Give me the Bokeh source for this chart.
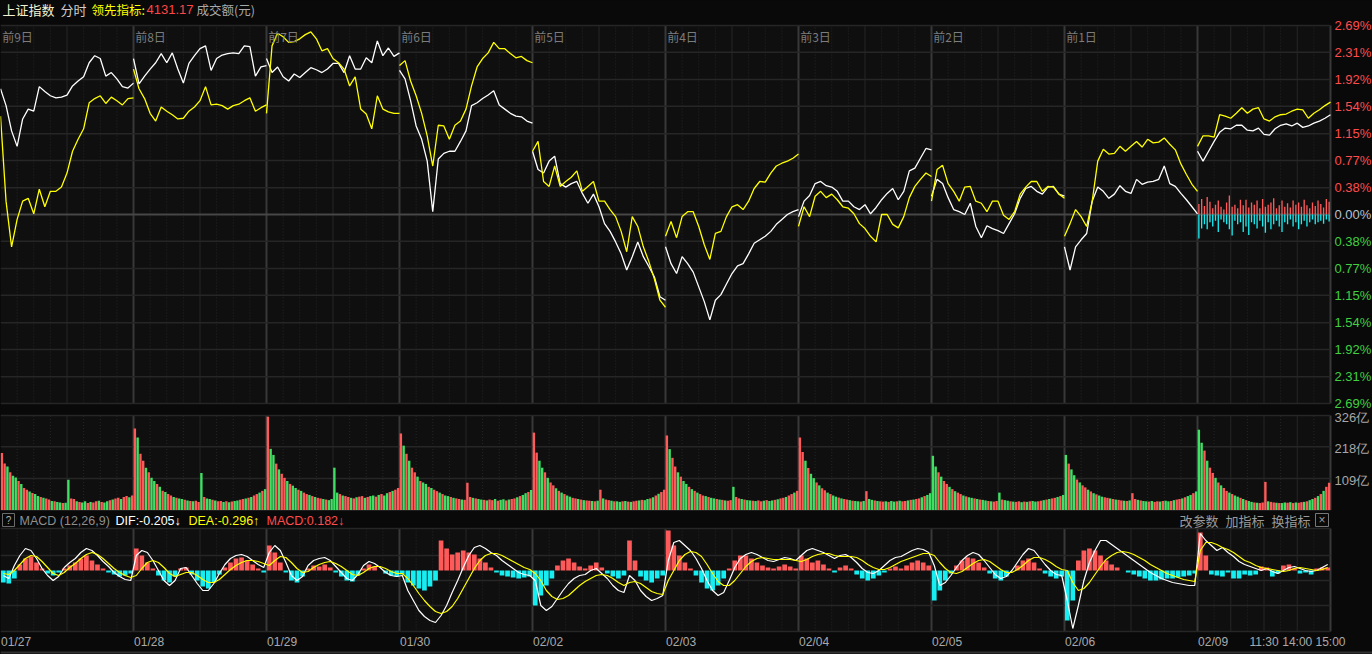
from bokeh.plotting import figure
from bokeh.models import Range1d, GlobalInlineStyleSheet
from bokeh.core.properties import value
from bokeh.embed import file_html
from bokeh.resources import INLINE

# ---------------- data ----------------
dates = ["01/27", "01/28", "01/29", "01/30", "02/02", "02/03", "02/04", "02/05", "02/06", "02/09"]
day_tags = ["前9日", "前8日", "前7日", "前6日", "前5日", "前4日", "前3日", "前2日", "前1日"]
time_tags = ["11:30", "14:00", "15:00"]
time_tag_min = [120, 180, 240]
pct_ticks = [2.69, 2.31, 1.92, 1.54, 1.15, 0.77, 0.38, 0.00, -0.38, -0.77, -1.15, -1.54, -1.92, -2.31, -2.69]
vol_ticks = [326, 218, 109]
macd_grid = [4.2, 1.5, -1.0, -3.5, -6.1]

# index (white) and leading indicator (yellow), % change, one value every 10 minutes
white_0127 = [1.79, 1.55, 1.19, 0.97, 1.36, 1.50, 1.47, 1.82, 1.75, 1.69, 1.66, 1.67, 1.70, 1.83, 1.90, 1.96, 2.16, 2.26, 2.22, 1.97, 2.02, 1.93, 1.82, 1.80, 1.87]
yellow_0127 = [1.40, 0.19, -0.46, -0.07, 0.19, 0.23, 0.01, 0.36, 0.11, 0.33, 0.33, 0.39, 0.59, 0.90, 1.07, 1.22, 1.59, 1.65, 1.69, 1.58, 1.67, 1.62, 1.56, 1.65, 1.66]
white_0128 = [2.22, 1.86, 1.97, 2.07, 2.16, 2.29, 2.16, 2.30, 2.07, 1.87, 2.15, 2.26, 2.36, 2.40, 2.05, 2.22, 2.27, 2.29, 2.30, 2.29, 2.40, 2.39, 1.97, 2.10, 2.12]
yellow_0128 = [2.07, 1.79, 1.65, 1.44, 1.33, 1.53, 1.47, 1.42, 1.36, 1.37, 1.47, 1.53, 1.62, 1.82, 1.56, 1.57, 1.55, 1.50, 1.55, 1.57, 1.62, 1.66, 1.47, 1.52, 1.56]
white_0129 = [2.22, 2.02, 2.10, 1.96, 1.90, 2.00, 1.95, 2.02, 2.09, 2.06, 2.02, 2.07, 2.15, 2.15, 2.02, 2.26, 2.07, 2.07, 2.23, 2.16, 2.47, 2.26, 2.37, 2.25, 2.30]
yellow_0129 = [1.44, 2.40, 2.58, 2.53, 2.45, 2.46, 2.50, 2.56, 2.60, 2.50, 2.33, 2.36, 2.22, 2.16, 2.07, 1.83, 1.96, 1.50, 1.43, 1.22, 1.69, 1.50, 1.46, 1.44, 1.44]
white_0130 = [2.05, 1.93, 1.62, 1.26, 1.07, 0.76, 0.04, 0.79, 0.87, 0.90, 0.90, 1.04, 1.19, 1.55, 1.59, 1.65, 1.70, 1.76, 1.56, 1.50, 1.44, 1.40, 1.39, 1.33, 1.30]
yellow_0130 = [2.12, 2.19, 1.90, 1.69, 1.44, 1.12, 0.69, 1.27, 1.26, 1.07, 1.27, 1.33, 1.50, 1.83, 2.10, 2.22, 2.30, 2.45, 2.36, 2.36, 2.29, 2.23, 2.25, 2.19, 2.16]
white_0202 = [0.90, 0.64, 0.59, 0.76, 0.83, 0.44, 0.39, 0.44, 0.47, 0.30, 0.16, 0.29, 0.11, -0.13, -0.24, -0.39, -0.56, -0.79, -0.60, -0.39, -0.60, -0.74, -0.89, -1.17, -1.22]
yellow_0202 = [0.90, 1.04, 0.47, 0.40, 0.69, 0.40, 0.47, 0.53, 0.62, 0.33, 0.40, 0.47, 0.19, 0.19, 0.07, -0.03, -0.24, -0.53, -0.03, -0.17, -0.46, -0.67, -0.92, -1.22, -1.32]
white_0203 = [-0.46, -0.70, -0.84, -0.60, -0.70, -0.82, -1.03, -1.24, -1.50, -1.22, -1.14, -0.99, -0.84, -0.73, -0.70, -0.56, -0.41, -0.36, -0.31, -0.24, -0.14, -0.07, 0.00, 0.04, 0.07]
yellow_0203 = [-0.31, -0.10, -0.33, -0.03, 0.04, 0.04, -0.17, -0.43, -0.64, -0.27, -0.24, -0.03, 0.11, 0.14, 0.07, 0.19, 0.37, 0.47, 0.46, 0.59, 0.69, 0.73, 0.76, 0.80, 0.86]
white_0204 = [-0.03, 0.19, 0.27, 0.44, 0.47, 0.41, 0.39, 0.33, 0.19, 0.19, 0.11, 0.07, 0.14, 0.01, 0.10, 0.21, 0.30, 0.37, 0.21, 0.33, 0.62, 0.66, 0.80, 0.94, 0.92]
yellow_0204 = [-0.17, 0.11, -0.03, 0.26, 0.33, 0.24, 0.29, 0.21, 0.11, 0.09, 0.01, -0.13, -0.20, -0.31, -0.39, 0.00, 0.00, -0.14, -0.19, -0.03, 0.24, 0.40, 0.50, 0.59, 0.54]
white_0205 = [0.26, 0.50, 0.44, 0.24, 0.07, 0.04, 0.00, 0.16, -0.17, -0.33, -0.16, -0.20, -0.23, -0.27, -0.13, 0.01, 0.23, 0.37, 0.40, 0.33, 0.29, 0.39, 0.40, 0.29, 0.26]
yellow_0205 = [0.19, 0.64, 0.70, 0.44, 0.33, 0.19, 0.39, 0.40, 0.19, 0.16, 0.04, 0.19, 0.19, -0.01, -0.07, 0.04, 0.29, 0.39, 0.47, 0.47, 0.33, 0.40, 0.39, 0.29, 0.23]
white_0206 = [-0.46, -0.79, -0.46, -0.36, -0.27, 0.19, 0.39, 0.33, 0.23, 0.29, 0.41, 0.33, 0.30, 0.50, 0.43, 0.46, 0.47, 0.50, 0.69, 0.44, 0.40, 0.30, 0.21, 0.11, 0.01]
yellow_0206 = [-0.31, -0.13, 0.07, -0.03, -0.17, 0.19, 0.76, 0.93, 0.86, 0.87, 0.97, 0.90, 0.97, 1.04, 0.96, 1.07, 1.02, 1.03, 1.09, 1.00, 0.92, 0.72, 0.57, 0.43, 0.33]
white_0209 = [0.90, 0.76, 0.90, 1.04, 1.17, 1.23, 1.22, 1.27, 1.27, 1.20, 1.19, 1.23, 1.14, 1.13, 1.22, 1.27, 1.29, 1.26, 1.30, 1.24, 1.26, 1.30, 1.33, 1.37, 1.42]
yellow_0209 = [0.97, 1.12, 1.12, 1.10, 1.42, 1.40, 1.37, 1.44, 1.52, 1.44, 1.50, 1.52, 1.36, 1.33, 1.39, 1.42, 1.43, 1.47, 1.50, 1.49, 1.37, 1.44, 1.49, 1.55, 1.60]

# strength bars on the last day (%), every 5 minutes
bar_up_0209 = [0.15, 0.22, 0.12, 0.25, 0.18, 0.09, 0.14, 0.20, 0.11, 0.07, 0.17, 0.27, 0.11, 0.14, 0.09, 0.21, 0.13, 0.21, 0.10, 0.17, 0.14, 0.20, 0.09, 0.22, 0.11, 0.14, 0.17, 0.23, 0.09, 0.13, 0.20, 0.11, 0.16, 0.10, 0.20, 0.14, 0.17, 0.11, 0.21, 0.13, 0.09, 0.17, 0.12, 0.20, 0.15, 0.10, 0.22, 0.18]
bar_dn_0209 = [-0.34, -0.20, -0.14, -0.21, -0.11, -0.17, -0.09, -0.25, -0.07, -0.11, -0.14, -0.21, -0.30, -0.09, -0.14, -0.11, -0.25, -0.17, -0.29, -0.11, -0.14, -0.20, -0.09, -0.17, -0.26, -0.11, -0.21, -0.14, -0.09, -0.17, -0.25, -0.11, -0.14, -0.07, -0.17, -0.11, -0.21, -0.14, -0.09, -0.17, -0.11, -0.07, -0.14, -0.11, -0.09, -0.13, -0.07, -0.10]

# turnover (亿元), every 5 minutes; up flags: 1 = red, 0 = green
vol_0127 = [197, 160, 150, 130, 118, 112, 100, 90, 76, 70, 64, 59, 55, 48, 45, 42, 40, 36, 31, 30, 28, 26, 24, 25, 104, 40, 38, 30, 28, 26, 30, 24, 28, 26, 30, 32, 28, 26, 30, 34, 36, 40, 42, 38, 45, 48, 44, 50]
vol_0128 = [281, 250, 194, 170, 146, 130, 111, 100, 90, 80, 66, 62, 55, 50, 45, 42, 40, 38, 35, 33, 31, 30, 32, 28, 128, 45, 40, 38, 35, 33, 30, 31, 28, 30, 27, 29, 31, 33, 35, 38, 40, 42, 45, 50, 55, 60, 66, 72]
vol_0129 = [322, 211, 190, 160, 140, 125, 111, 100, 90, 84, 76, 70, 66, 60, 55, 52, 48, 45, 42, 40, 38, 36, 34, 38, 146, 60, 55, 50, 48, 45, 42, 40, 44, 46, 48, 42, 45, 48, 50, 46, 52, 55, 50, 58, 62, 66, 70, 76]
vol_0130 = [264, 222, 194, 170, 146, 130, 115, 100, 95, 90, 80, 76, 70, 65, 60, 55, 50, 48, 45, 42, 40, 38, 36, 35, 94, 45, 42, 40, 38, 36, 35, 33, 36, 34, 38, 32, 35, 37, 33, 36, 38, 40, 44, 48, 52, 58, 62, 69]
vol_0202 = [267, 198, 170, 146, 130, 111, 95, 85, 75, 66, 60, 55, 50, 46, 42, 40, 38, 36, 34, 33, 32, 31, 30, 32, 70, 40, 36, 34, 32, 30, 30, 28, 30, 31, 29, 28, 30, 32, 33, 35, 34, 38, 40, 44, 50, 56, 62, 70]
vol_0203 = [257, 210, 180, 150, 130, 115, 100, 90, 80, 72, 66, 60, 55, 50, 48, 45, 42, 40, 38, 36, 35, 33, 32, 34, 80, 45, 40, 38, 36, 34, 33, 32, 31, 33, 30, 32, 34, 31, 33, 35, 37, 40, 42, 45, 50, 55, 60, 66]
vol_0204 = [250, 200, 170, 145, 125, 110, 95, 85, 75, 68, 60, 55, 50, 46, 43, 40, 38, 36, 34, 32, 31, 30, 29, 31, 65, 38, 35, 33, 31, 30, 29, 30, 28, 31, 29, 30, 32, 30, 31, 33, 35, 36, 38, 40, 44, 48, 52, 58]
vol_0205 = [187, 150, 130, 115, 100, 90, 80, 72, 65, 60, 55, 50, 47, 44, 42, 40, 38, 36, 35, 33, 31, 30, 29, 31, 60, 36, 34, 32, 30, 29, 28, 30, 27, 29, 28, 30, 31, 29, 30, 32, 34, 36, 38, 40, 42, 45, 48, 52]
vol_0206 = [190, 160, 140, 120, 105, 95, 85, 78, 70, 64, 58, 54, 50, 46, 44, 42, 40, 38, 36, 35, 33, 32, 31, 33, 58, 38, 35, 33, 31, 30, 29, 31, 28, 30, 29, 31, 32, 30, 31, 34, 36, 38, 40, 44, 48, 52, 58, 64]
vol_0209 = [277, 232, 205, 170, 146, 128, 111, 95, 85, 76, 66, 60, 55, 50, 46, 42, 38, 34, 31, 28, 26, 25, 24, 26, 97, 30, 28, 26, 25, 24, 24, 26, 25, 27, 24, 26, 25, 27, 28, 30, 34, 38, 42, 48, 55, 66, 80, 94]
up_0127 = "110100101101001011010010" "011010010110100101101101"
up_0128 = "101101001010110100101011" "010010110101001101011010"
up_0129 = "100101101001011010110100" "001011010110100101001011"
up_0130 = "101011010010110100101101" "110100101101001011010010"
up_0202 = "110010110101001101011010" "101101001010110100101011"
up_0203 = "101101001010110100101011" "011010010110100101101101"
up_0204 = "110100101101001011010010" "100101101001011010110100"
up_0205 = "001011010110100101001011" "010010110101001101011010"
up_0206 = "010010110101001101011010" "110100101101001011010010"
up_0209 = "001011010110100101001011" "101101001010110100101011"

# MACD (DIF, DEA, histogram), one value every 10 minutes
dif_0127 = [-0.5, -0.8, 0.5, 1.5, 2.2, 2.0, 1.2, 0.2, -0.5, -1.0, -0.6, 0.3, 0.8, 1.2, 1.8, 2.2, 2.0, 1.5, 0.9, 0.4, -0.2, -0.6, -0.9, -1.0]
dea_0127 = [-0.3, -0.4, 0.0, 0.6, 1.2, 1.5, 1.4, 0.9, 0.3, -0.3, -0.5, -0.2, 0.3, 0.7, 1.2, 1.6, 1.8, 1.6, 1.2, 0.7, 0.2, -0.2, -0.5, -0.7]
hist_0127 = [-1.2, -1.3, -0.8, 0.6, 1.2, 1.4, 0.8, 0.2, -0.3, -0.5, -0.2, 0.2, 0.5, 0.8, 1.2, 1.5, 1.0, 0.6, 0.2, -0.2, -0.4, -0.6, -0.5, -0.3]
dif_0128 = [1.5, 2.0, 1.8, 1.0, 0.0, -1.0, -1.5, -1.0, 0.2, 0.3, -0.5, -1.3, -2.0, -2.0, -1.3, -0.3, 0.6, 1.2, 1.5, 1.6, 1.4, 1.0, 0.6, 0.3]
dea_0128 = [-0.5, 0.2, 0.8, 1.0, 0.8, 0.3, -0.3, -0.6, -0.4, -0.2, -0.2, -0.5, -0.9, -1.2, -1.2, -0.9, -0.4, 0.1, 0.5, 0.8, 1.0, 1.0, 0.9, 0.7]
hist_0128 = [2.2, 1.5, 0.8, 0.2, -0.5, -1.0, -1.2, -0.6, 0.2, 0.3, -0.4, -1.0, -1.6, -1.8, -1.2, -0.4, 0.3, 0.8, 1.2, 1.3, 1.0, 0.6, 0.2, -0.2]
dif_0129 = [1.8, 2.5, 2.0, 0.8, -0.5, -1.0, -0.6, 0.5, 1.0, 1.2, 1.3, 1.0, 0.4, -0.2, -0.8, -1.0, -0.4, 0.5, 0.9, 0.7, 0.3, -0.2, -0.5, -0.6]
dea_0129 = [0.5, 1.0, 1.4, 1.3, 0.8, 0.2, -0.2, -0.1, 0.3, 0.6, 0.8, 0.9, 0.7, 0.4, 0.0, -0.4, -0.5, -0.2, 0.2, 0.4, 0.4, 0.2, -0.1, -0.3]
hist_0129 = [2.5, 1.8, 0.8, -0.2, -1.0, -1.2, -0.6, 0.2, 0.5, 0.4, 0.6, 0.3, -0.2, -0.6, -1.0, -1.1, -0.5, 0.2, 0.6, 0.4, 0.0, -0.3, -0.5, -0.6]
dif_0130 = [-0.5, -2.0, -3.0, -4.0, -4.6, -5.0, -5.2, -4.5, -3.5, -2.2, -1.0, 0.3, 1.5, 2.3, 2.5, 2.2, 1.8, 1.5, 1.0, 0.6, 0.2, -0.2, -0.4, -0.5]
dea_0130 = [-0.3, -0.8, -1.5, -2.3, -3.0, -3.6, -4.1, -4.3, -4.1, -3.6, -2.8, -1.8, -0.8, 0.2, 1.0, 1.5, 1.7, 1.7, 1.5, 1.2, 0.9, 0.6, 0.3, 0.1]
hist_0130 = [-0.4, -1.2, -1.5, -1.8, -2.0, -1.6, -1.0, 3.0, 2.2, 1.6, 1.8, 2.0, 1.8, 1.6, 1.2, 0.8, 0.3, -0.2, -0.5, -0.6, -0.7, -0.8, -0.7, -0.6]
dif_0202 = [-1.0, -3.5, -4.0, -3.6, -2.8, -2.0, -1.3, -0.8, -0.5, -0.4, 0.0, 0.2, -0.3, -0.8, -1.5, -2.0, -2.2, -0.5, -1.0, -2.0, -2.6, -3.0, -2.8, -2.5]
dea_0202 = [-0.3, -1.0, -2.0, -2.6, -2.9, -2.8, -2.5, -2.0, -1.5, -1.1, -0.8, -0.5, -0.4, -0.5, -0.8, -1.2, -1.5, -1.2, -1.1, -1.3, -1.7, -2.1, -2.3, -2.4]
hist_0202 = [-3.5, -2.5, -1.5, -0.8, 0.5, 1.0, 1.2, 0.8, 0.4, 0.2, 0.5, 0.8, 0.3, -0.3, -0.6, -0.8, -0.5, 3.0, 1.0, -0.6, -1.0, -1.2, -0.8, -0.5]
dif_0203 = [1.0, 2.8, 3.0, 2.5, 2.0, 1.2, 0.2, -1.0, -2.0, -2.5, -2.2, -1.0, 0.3, 1.2, 1.6, 1.8, 1.6, 1.3, 1.0, 0.9, 1.1, 1.3, 1.2, 1.0]
dea_0203 = [-1.0, 0.0, 1.0, 1.6, 1.9, 1.8, 1.4, 0.6, -0.3, -1.1, -1.5, -1.5, -1.0, -0.3, 0.4, 0.9, 1.2, 1.3, 1.2, 1.1, 1.1, 1.1, 1.1, 1.0]
hist_0203 = [4.0, 2.5, 1.5, 0.8, 0.2, -0.5, -1.2, -1.8, -2.0, -1.5, -0.8, 0.2, 1.0, 1.5, 1.5, 1.2, 0.8, 0.5, 0.3, 0.2, 0.4, 0.6, 0.4, 0.2]
dif_0204 = [1.5, 2.0, 2.2, 2.0, 1.8, 1.5, 1.2, 1.5, 1.6, 1.3, 0.8, 0.2, -0.2, -0.3, 0.0, 0.5, 1.0, 1.3, 1.4, 1.7, 2.0, 2.2, 2.1, 1.8]
dea_0204 = [0.9, 1.1, 1.4, 1.6, 1.7, 1.7, 1.5, 1.4, 1.4, 1.4, 1.3, 1.0, 0.6, 0.3, 0.1, 0.1, 0.3, 0.6, 0.9, 1.1, 1.3, 1.5, 1.7, 1.7]
hist_0204 = [1.5, 1.2, 0.8, 1.0, 0.6, 0.2, -0.2, 0.3, 0.5, 0.2, -0.4, -0.8, -1.0, -0.8, -0.5, -0.2, 0.2, 0.4, 0.2, 0.5, 0.8, 1.0, 0.8, 0.5]
dif_0205 = [0.5, -1.5, -1.2, -0.5, 0.3, 1.0, 1.5, 1.8, 1.6, 1.0, 0.3, -0.4, -0.8, -0.6, 0.0, 0.8, 1.6, 2.2, 2.0, 1.3, 0.6, 0.0, -0.4, -0.5]
dea_0205 = [1.5, 0.8, 0.2, -0.2, -0.3, -0.1, 0.3, 0.7, 1.0, 1.1, 0.9, 0.5, 0.1, -0.2, -0.2, 0.1, 0.5, 1.0, 1.3, 1.3, 1.1, 0.8, 0.4, 0.1]
hist_0205 = [-3.0, -2.0, -1.0, -0.3, 0.5, 1.0, 1.3, 1.2, 0.8, 0.3, -0.3, -0.8, -1.0, -0.6, 0.0, 0.5, 1.0, 1.2, 0.8, 0.2, -0.3, -0.6, -0.8, -0.6]
dif_0206 = [-3.0, -5.8, -3.5, -1.0, 0.8, 2.0, 3.0, 3.0, 2.6, 2.2, 1.8, 1.4, 1.0, 0.6, 0.2, -0.2, -0.5, -0.8, -1.0, -1.2, -1.3, -1.4, -1.5, -1.5]
dea_0206 = [0.0, -1.2, -2.0, -1.8, -1.2, -0.4, 0.4, 1.1, 1.5, 1.8, 1.9, 1.8, 1.6, 1.3, 1.0, 0.6, 0.3, 0.0, -0.3, -0.5, -0.7, -0.9, -1.0, -1.1]
hist_0206 = [-5.0, -3.0, 1.0, 2.0, 2.2, 2.0, 1.5, 1.0, 0.6, 0.3, 0.0, -0.2, -0.4, -0.6, -0.8, -1.0, -1.0, -0.9, -0.8, -0.8, -0.7, -0.6, -0.5, -0.3]
dif_0209 = [3.7, 3.0, 2.5, 2.0, 2.3, 1.8, 1.4, 0.9, 0.6, 0.4, 0.2, 0.0, 0.2, -0.1, -0.3, 0.0, 0.3, 0.4, 0.2, 0.0, -0.1, 0.0, 0.3, 0.6]
dea_0209 = [2.0, 2.8, 2.8, 2.6, 2.3, 2.1, 1.8, 1.4, 1.0, 0.8, 0.5, 0.3, 0.2, 0.1, 0.0, -0.1, 0.0, 0.2, 0.3, 0.2, 0.1, 0.0, 0.1, 0.3]
hist_0209 = [3.8, 1.5, -0.4, -0.5, -0.6, -0.2, -0.8, -0.8, -0.4, -0.5, -0.4, 0.4, 0.3, -0.6, -0.3, 0.5, 0.6, 0.2, -0.3, -0.2, -0.4, 0.2, 0.3, 0.3]

header_name = "上证指数"
header_mode = "分时"
lead_label = "领先指标:"
lead_value = "4131.17"
vol_unit_label = "成交额(元)"
macd_params = "MACD (12,26,9)"
dif_label = "DIF:-0.205↓"
dea_label = "DEA:-0.296↑"
macd_label = "MACD:0.182↓"
menu_items = ["改参数", "加指标", "换指标"]

white_days = [white_0127, white_0128, white_0129, white_0130, white_0202, white_0203, white_0204, white_0205, white_0206, white_0209]
yellow_days = [yellow_0127, yellow_0128, yellow_0129, yellow_0130, yellow_0202, yellow_0203, yellow_0204, yellow_0205, yellow_0206, yellow_0209]
vol_days = [vol_0127, vol_0128, vol_0129, vol_0130, vol_0202, vol_0203, vol_0204, vol_0205, vol_0206, vol_0209]
up_days = [up_0127, up_0128, up_0129, up_0130, up_0202, up_0203, up_0204, up_0205, up_0206, up_0209]
dif_days = [dif_0127, dif_0128, dif_0129, dif_0130, dif_0202, dif_0203, dif_0204, dif_0205, dif_0206, dif_0209]
dea_days = [dea_0127, dea_0128, dea_0129, dea_0130, dea_0202, dea_0203, dea_0204, dea_0205, dea_0206, dea_0209]
hist_days = [hist_0127, hist_0128, hist_0129, hist_0130, hist_0202, hist_0203, hist_0204, hist_0205, hist_0206, hist_0209]

# ---------------- layout / style ----------------
W, H = 1372, 654
PLOT_R = 1330
DAY_MIN = 240
N_DAYS = len(dates)
X_END = N_DAYS * DAY_MIN * W / PLOT_R

BG = "#090909"
PANEL = "#0f0f0f"
GRID = "#262626"
DAYLINE = "#383838"
ZERO = "#474747"
RED = "#ff5a5a"
GREEN = "#3fe063"
CYAN = "#17eef2"
YEL = "#ffff00"
CJK = value("Noto Sans CJK SC")
LAT = value("Liberation Sans")


def band(v_top, px_top, v_bot, px_bot):
    k = (v_top - v_bot) / (px_bot - px_top)
    return Range1d(start=v_bot - (H - px_bot) * k, end=v_top + px_top * k)


PR_TOP, PR_BOT = 2.69, -2.69
VOL_TOP = 326
MACD_TOP, MACD_BOT = 4.2, -6.1

p = figure(width=W, height=H, x_range=Range1d(0, X_END), y_range=band(PR_TOP, 25, PR_BOT, 403),
           x_axis_type=None, y_axis_type=None, output_backend="svg", toolbar_location=None,
           min_border=0, background_fill_color=BG, border_fill_color=BG, outline_line_color=None)
p.extra_y_ranges = {"vol": band(VOL_TOP, 415, 0, 509.5), "macd": band(MACD_TOP, 528, MACD_BOT, 631),
                    "px": Range1d(H, 0)}
p.extra_x_ranges = {"pxx": Range1d(0, W)}
p.stylesheets = [GlobalInlineStyleSheet(css="html,body{margin:0;padding:0;background:#090909;overflow:hidden}")]

# panel backgrounds
p.quad(left=[0, 0, 0], right=[PLOT_R] * 3, top=[25, 415, 528], bottom=[403, 509.5, 631],
       x_range_name="pxx", y_range_name="px", fill_color=PANEL, line_color=None)

# grid lines
X_LAST = N_DAYS * DAY_MIN
last0 = (N_DAYS - 1) * DAY_MIN
day_lines = [d * DAY_MIN for d in range(1, N_DAYS)] + [X_LAST]
solid_lines = [d * DAY_MIN + 120 for d in range(N_DAYS - 1)] + [last0 + m for m in (60, 120, 180)]
dot_lines = [d * DAY_MIN + m for d in range(N_DAYS - 1) for m in (30, 60, 90, 150, 180, 210)] + \
            [last0 + m for m in (30, 90, 150, 210)]
panels = [("default", PR_BOT, PR_TOP), ("vol", 0, VOL_TOP), ("macd", MACD_BOT, MACD_TOP)]
for name, lo, hi in panels:
    for xs, col, lw, dash in ((dot_lines, GRID, 1, "1 2"), (solid_lines, GRID, 1, "solid"),
                              (day_lines, DAYLINE, 2, "solid")):
        p.segment(x0=xs, x1=xs, y0=[lo] * len(xs), y1=[hi] * len(xs), y_range_name=name,
                  line_color=col, line_width=lw, line_dash=dash)

hz = [t for t in pct_ticks if t != 0]
p.segment(x0=[0] * len(hz), x1=[X_LAST] * len(hz), y0=hz, y1=hz, line_color=GRID, line_width=1.5)
p.segment(x0=[0], x1=[X_LAST], y0=[0], y1=[0], line_color=ZERO, line_width=2)
vg = vol_ticks + [0]
p.segment(x0=[0] * len(vg), x1=[X_LAST] * len(vg), y0=vg, y1=vg, y_range_name="vol", line_color=GRID, line_width=1.5)
p.segment(x0=[0] * len(macd_grid), x1=[X_LAST] * len(macd_grid), y0=macd_grid, y1=macd_grid,
          y_range_name="macd", line_color=GRID, line_width=1.5)

# volume bars
vx, vt, vc = [], [], []
for d, (vals, flags) in enumerate(zip(vol_days, up_days)):
    step = DAY_MIN / len(vals)
    for i, v in enumerate(vals):
        vx.append(d * DAY_MIN + (i + 0.5) * step)
        vt.append(v)
        vc.append(RED if flags[i % len(flags)] == "1" else GREEN)
p.vbar(x=vx, top=vt, bottom=0, width=4.3, y_range_name="vol", fill_color=vc, line_color=None)

# last-day strength bars in price panel
step = DAY_MIN / len(bar_up_0209)
bx = [last0 + (i + 0.5) * step for i in range(len(bar_up_0209))]
p.vbar(x=bx, top=bar_up_0209, bottom=0, width=2.4, fill_color=RED, line_color=None)
p.vbar(x=bx, top=bar_dn_0209, bottom=0, width=2.4, fill_color=CYAN, line_color=None)

# price lines
def day_xs(days):
    out = []
    for d, vals in enumerate(days):
        st = DAY_MIN / (len(vals) - 1)
        out.append([d * DAY_MIN + i * st for i in range(len(vals))])
    return out

p.multi_line(xs=day_xs(white_days), ys=white_days, line_color="#ffffff", line_width=1.3)
p.multi_line(xs=day_xs(yellow_days), ys=yellow_days, line_color=YEL, line_width=1.3)

# MACD
hx, hv, hc = [], [], []
for d, vals in enumerate(hist_days):
    st = DAY_MIN / len(vals)
    for i, v in enumerate(vals):
        hx.append(d * DAY_MIN + (i + 0.5) * st)
        hv.append(v)
        hc.append(RED if v >= 0 else CYAN)
p.vbar(x=hx, top=hv, bottom=0, width=8.5, y_range_name="macd", fill_color=hc, line_color=None)

def cont(days):
    xs, ys = [], []
    for d, vals in enumerate(days):
        st = DAY_MIN / len(vals)
        for i, v in enumerate(vals):
            xs.append(d * DAY_MIN + (i + 0.5) * st)
            ys.append(v)
    return xs, ys

dx, dy = cont(dif_days)
ex, ey = cont(dea_days)
p.line(dx, dy, y_range_name="macd", line_color="#ffffff", line_width=1.2)
p.line(ex, ey, y_range_name="macd", line_color=YEL, line_width=1.2)

# ---------------- texts ----------------
def txt(x, y, s, color, size="13px", font=CJK, align="left", xr="pxx", yr="px"):
    p.text(x=x, y=y, text=s, x_range_name=xr, y_range_name=yr, text_color=color,
           text_font=font, text_font_size=size, text_align=align, text_baseline="middle")

# header
txt([2], [9], [header_name], "#f2f2d2")
txt([60], [9], [header_mode], "#cfcfcf")
txt([91], [9], [lead_label], YEL, size="12.5px")
txt([146], [9], [lead_value], "#ff4646", font=LAT)
txt([196], [9], [vol_unit_label], "#a8a8a8", size="12.5px")

# day tags inside price panel
txt([d * DAY_MIN + 3 for d in range(len(day_tags))], [36] * len(day_tags), day_tags, "#7c7c7c",
    size="12px", xr="default")

# right-hand percent labels
pos = [t for t in pct_ticks if t > 0]
neg = [t for t in pct_ticks if t < 0]
txt([1334] * len(pos), pos, [f"{t:.2f}%" for t in pos], "#ff4c4c", font=LAT, yr="default")
txt([1334], [0], ["0.00%"], "#b9c0cc", font=LAT, yr="default")
txt([1334] * len(neg), neg, [f"{abs(t):.2f}%" for t in neg], "#40d040", font=LAT, yr="default")
txt([1334] * len(vol_ticks), [v - 6 for v in vol_ticks], [f"{v}亿" for v in vol_ticks], "#a6a6a6",
    font=LAT, yr="vol")

# MACD header
p.quad(left=[2], right=[14], top=[513], bottom=[526], x_range_name="pxx", y_range_name="px",
       fill_color=None, line_color="#6a6a6a", line_width=1)
txt([8], [519.5], ["?"], "#b0b0b0", size="10px", font=LAT, align="center")
txt([19], [520], [macd_params], "#8e8e8e", size="12.5px", font=LAT)
txt([115], [520], [dif_label], "#ffffff", size="12.5px", font=LAT)
txt([188], [520], [dea_label], YEL, size="12.5px", font=LAT)
txt([266], [520], [macd_label], "#ff4c4c", size="12.5px", font=LAT)
txt([1179, 1225, 1271], [520] * 3, menu_items, "#9a9a9a")
p.quad(left=[1315], right=[1328], top=[513], bottom=[526], x_range_name="pxx", y_range_name="px",
       fill_color=None, line_color="#777777", line_width=1)
txt([1321.5], [519.5], ["×"], "#9a9a9a", size="12px", font=LAT, align="center")

# bottom date / time labels
txt([d * DAY_MIN + 1 for d in range(N_DAYS)], [641] * N_DAYS, dates, "#a9a9a9", size="12px", font=LAT,
    xr="default")
txt([last0 + m for m in time_tag_min], [641] * len(time_tags), time_tags, "#a9a9a9", size="12px",
    font=LAT, align="center", xr="default")
p.segment(x0=[0], x1=[W], y0=[652], y1=[652], x_range_name="pxx", y_range_name="px",
          line_color="#303030", line_width=2)

open("out.html", "w").write(file_html(p, INLINE))
